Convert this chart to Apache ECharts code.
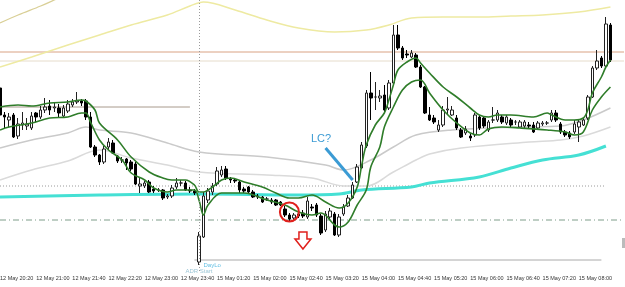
<!DOCTYPE html>
<html lang="en">
<head>
  <meta charset="UTF-8">
  <script src="https://cdn.jsdelivr.net/npm/echarts@6/dist/echarts.min.js"></script>
  <style>
    html, body { margin: 0; background: #fff; }
    #chart { width: 625px; height: 287px; }
  </style>
</head>
<body>
  <div id="chart"></div>
  <script>
    // M5 bars, Friday close 23:55, Monday open 01:00 (3 empty slots of chart shift at the end)
    var sessions = [['12 May', 20 * 60 + 20, 23 * 60 + 55], ['15 May', 60, 8 * 60 + 50]];
    var times = [];
    sessions.forEach(function (s) {
      for (var m = s[1]; m <= s[2]; m += 5) {
        var h = Math.floor(m / 60), mm = m % 60;
        times.push(s[0] + ' ' + (h < 10 ? '0' : '') + h + ':' + (mm < 10 ? '0' : '') + mm);
      }
    });

    // [open, close, low, high] in price levels (no price scale visible)
    var candles = [
      [212,185,182,214],[185,183,172,188],[180,183,173,187],[185,163,162,187],[164,176,161,182],
      [175,177,170,188],[174,176,170,182],[172,184,170,188],[187,183,178,188],[183,190,181,194],
      [190,193,187,202],[194,190,185,200],[192,193,188,198],[192,187,183,196],[184,192,182,195],
      [189,196,187,200],[195,198,193,201],[198,199,196,208],[199,197,194,201],[199,183,180,201],
      [183,153,152,188],[153,145,143,155],[145,138,135,146],[138,151,136,154],[153,158,150,162],
      [157,147,146,160],[144,139,137,145],[140,140,137,143],[141,137,130,142],[138,131,129,140],
      [136,116,115,138],[114,116,107,122],[114,117,112,119],[118,108,107,120],[111,109,107,114],
      [110,110,108,112],[110,102,100,111],[103,104,101,106],[104,112,102,115],[113,117,111,122],
      [117,117,114,120],[117,110,109,119],[110,109,107,113],[109,107,105,111],
      [38,64,35,68],[63,104,62,108],[100,109,97,112],[108,114,105,117],[116,129,114,133],
      [125,130,123,134],[131,122,120,134],[121,120,117,123],[120,119,117,122],[118,110,107,119],
      [111,109,107,113],[113,108,106,114],[108,103,102,110],[104,103,101,106],[103,98,97,104],
      [101,101,99,103],[100,98,96,102],[100,95,94,101],[98,95,94,99],[91,85,83,94],
      [85,81,79,87],[82,85,80,87],[86,84,82,88],[87,84,82,90],[83,99,81,103],
      [93,92,89,96],[95,85,83,97],[84,67,65,86],[70,86,68,89],[83,89,81,92],
      [86,65,64,88],[65,83,63,86],[86,93,84,96],[94,102,93,105],[102,115,101,118],
      [118,133,117,136],[132,155,131,158],[154,207,152,210],[207,202,180,228],[203,203,190,218],
      [202,204,198,210],[205,190,188,215],[192,217,190,220],[217,265,215,275],[265,252,250,275],
      [252,242,240,254],[246,245,242,250],[243,247,242,250],[245,233,232,247],[233,213,212,235],
      [213,187,186,214],[185,180,179,193],[182,178,176,185],[170,175,168,180],[175,190,173,194],
      [190,191,186,203],[185,190,184,194],[182,172,170,185],[170,163,162,172],[167,171,165,174],
      [164,162,159,167],[165,185,163,187],[183,172,170,185],[182,174,172,184],[170,178,168,180],
      [180,180,177,193],[180,187,178,190],[183,178,176,185],[177,183,175,185],[180,175,173,182],
      [178,178,175,180],[173,178,172,180],[174,178,172,180],[175,174,172,178],[175,168,167,178],
      [172,177,170,179],[176,177,174,179],[177,177,175,179],[180,187,178,190],[187,180,178,190],
      [176,168,166,178],[168,165,163,170],[167,163,161,169],[168,176,166,180],[173,178,158,181],
      [175,180,174,182],[182,203,180,205],[203,232,202,234],[232,239,230,250],[242,234,232,244],
      [234,276,232,283],[275,240,238,277]
    ];

    // indicator lines as [bar index, level]
    var greenUpper = [[0,193],[4,195],[7,194],[11,197],[15,198],[18,200],[19,199],[21,190],[22,177],[26,160],
      [29,143],[33,128],[36,122],[38,120],[41,120],[43,115],[44,108],[45,108],[47,113],[49,120],[51,122],
      [54,118],[58,113],[61,107],[64,102],[66,102],[69,105],[72,98],[75,92],[77,97],[79,113],[80,135],
      [81,155],[83,175],[85,187],[86,200],[87,215],[88,230],[90,238],[92,242],[93,237],[95,227],[98,213],
      [101,203],[104,192],[106,185],[108,183],[110,185],[113,185],[118,183],[121,187],[122,185],[125,180],
      [127,180],[129,182],[130,190],[131,207],[133,223],[134,233],[135,240]];
    var greenLower = [[0,170],[2,173],[7,177],[11,182],[15,183],[18,187],[19,187],[20,178],[22,160],[24,150],
      [27,140],[29,127],[32,120],[34,112],[37,108],[39,110],[43,110],[44,100],[45,85],[46,95],[49,107],
      [54,107],[59,100],[63,95],[66,88],[69,85],[71,87],[74,75],[75,73],[77,78],[79,95],[81,110],[82,133],
      [84,153],[85,173],[87,193],[89,210],[91,218],[93,220],[95,207],[98,190],[101,177],[104,167],[106,165],
      [108,171],[111,173],[115,172],[121,170],[125,168],[127,165],[129,168],[131,190],[133,203],[135,213]];
    var grayUpper = [[0,152],[7,160],[15,167],[19,173],[22,170],[29,167],[37,157],[44,148],[59,143],[72,135],
      [76,130],[82,140],[87,153],[92,165],[100,170],[115,173],[124,174],[129,180],[135,192]];
    var grayLower = [[0,120],[7,130],[15,139],[22,150],[29,142],[37,135],[44,128],[59,125],[69,122],[76,114],
      [81,114],[87,128],[92,140],[95,146],[102,152],[117,158],[124,160],[129,164],[135,173]];
    var cyanMA = [[0,103],[22,105],[44,106],[66,105],[75,106],[80,110],[91,113],[95,117],[106,123],[113,132],
      [120,140],[128,145],[134,154]];
    var yellowOuter = [[0,277],[4,285],[9,294],[12,300],[15,306]];
    var yellowInner = [[0,233],[7,243],[15,255],[22,265],[29,275],[37,285],[42,294],[45,298],[52,290],[59,280],
      [66,272],[74,268],[81,270],[86,275],[91,282],[98,283],[106,283],[113,284],[120,285],[128,288],[135,293]];

    // horizontal objects: [level, first bar, last bar]
    var resistance = [248, 0, 138];
    var resistance2 = [239, 0, 138];
    var fridayHigh = [193, 0, 42];
    var dottedLevel = [114, 0, 134];
    var dashDotLevel = [80, 0, 138];
    var adrLow = [40, 43, 133];
    var dayStart = 44;

    var chart = echarts.init(document.getElementById('chart'), null, { renderer: 'canvas' });

    function hline(def, color, type, width) {
      return {
        type: 'line', data: [[def[1], def[0]], [def[2], def[0]]], showSymbol: false, silent: true,
        lineStyle: { color: color, type: type, width: width }, z: 1
      };
    }
    function curve(data, color, width, z) {
      return {
        type: 'line', data: data, showSymbol: false, silent: true, smooth: 0.35,
        lineStyle: { color: color, width: width }, z: z
      };
    }

    var option = {
      animation: false,
      backgroundColor: '#fff',
      grid: { left: 0, right: 1, top: 0, bottom: 16, outerBoundsMode: 'none' },
      xAxis: {
        type: 'category', data: times, boundaryGap: false,
        axisLine: { show: false }, axisTick: { show: false }, splitLine: { show: false },
        axisLabel: {
          interval: function (i) { return i % 8 === 0 && i <= 128; },
          align: 'left', margin: 4, fontSize: 5.5, color: '#333', fontFamily: 'Liberation Sans'
        }
      },
      yAxis: { type: 'value', min: 29, max: 300, show: false, splitLine: { show: false } },
      series: [
        hline(resistance, '#d9a283', 'solid', 1),
        hline(resistance2, '#e6dccb', 'solid', 1),
        hline(fridayHigh, '#a89a8c', 'solid', 1),
        hline(dottedLevel, '#9a9a9a', [1, 2], 1),
        hline(dashDotLevel, '#7f9d8a', [6, 3, 1, 3], 1),
        hline(adrLow, '#aaaaaa', 'solid', 1),
        {
          type: 'line', data: [], silent: true,
          markLine: {
            symbol: 'none', silent: true, label: { show: false },
            lineStyle: { color: '#9a9a9a', type: [1, 2], width: 1 },
            data: [{ xAxis: times[dayStart] }]
          }
        },
        curve(yellowOuter, '#d9cf96', 1.3, 1),
        curve(yellowInner, '#eeeaa2', 1.5, 1),
        curve(grayUpper, '#cacaca', 1.5, 1),
        curve(grayLower, '#dadada', 1.5, 1),
        curve(cyanMA, '#45e0d4', 3, 1),
        {
          type: 'candlestick', data: candles, barWidth: 3, z: 2, silent: true,
          itemStyle: { color: '#fff', color0: '#000', borderColor: '#222', borderColor0: '#000', borderWidth: 1 }
        },
        curve(greenUpper, '#2f7d2a', 1.6, 3),
        curve(greenLower, '#2f7d2a', 1.6, 3)
      ]
    };
    chart.setOption(option);

    // annotations anchored to [bar index, level]
    function px(p) { return chart.convertToPixel({ gridIndex: 0 }, p); }
    var lcText = px([71, 161]);
    var lcA = px([72, 152]), lcB = px([78, 120]);
    var circle = px([64, 88]);
    var arrowTop = px([67, 68]), arrowTip = px([67, 51]);
    var dayLo = px([45, 35]), adrStart = px([41, 29]);
    var ax = arrowTop[0], at = arrowTop[1], ab = arrowTip[1];

    chart.setOption({
      graphic: [
        { type: 'text', x: lcText[0], y: lcText[1], z: 10,
          style: { text: 'LC?', fill: '#3b9bd4', font: '11px "Liberation Sans"', textAlign: 'center', textVerticalAlign: 'middle', align: 'center', verticalAlign: 'middle' } },
        { type: 'line', z: 10, shape: { x1: lcA[0], y1: lcA[1], x2: lcB[0], y2: lcB[1] },
          style: { stroke: '#3b9bd4', lineWidth: 3 } },
        { type: 'circle', z: 10, shape: { cx: circle[0], cy: circle[1], r: 9.5 },
          style: { fill: 'none', stroke: '#e0201c', lineWidth: 2 } },
        { type: 'polygon', z: 10,
          shape: { points: [[ax - 4, at], [ax + 4, at], [ax + 4, at + 7], [ax + 8, at + 7], [ax, ab], [ax - 8, at + 7], [ax - 4, at + 7]] },
          style: { fill: '#fff', stroke: '#e0201c', lineWidth: 1.5 } },
        { type: 'text', x: dayLo[0], y: dayLo[1], z: 10,
          style: { text: 'DayLo', fill: '#62bfe3', font: '6px "Liberation Sans"', textVerticalAlign: 'middle', verticalAlign: 'middle' } },
        { type: 'text', x: adrStart[0], y: adrStart[1], z: 10,
          style: { text: 'ADR Start', fill: '#9cc6d6', font: '6px "Liberation Sans"', textVerticalAlign: 'middle', verticalAlign: 'middle' } },
        { type: 'rect', z: 10, shape: { x: 622, y: 238, width: 3, height: 10 }, style: { fill: '#bbbbbb' } }
      ]
    });
  </script>
</body>
</html>
